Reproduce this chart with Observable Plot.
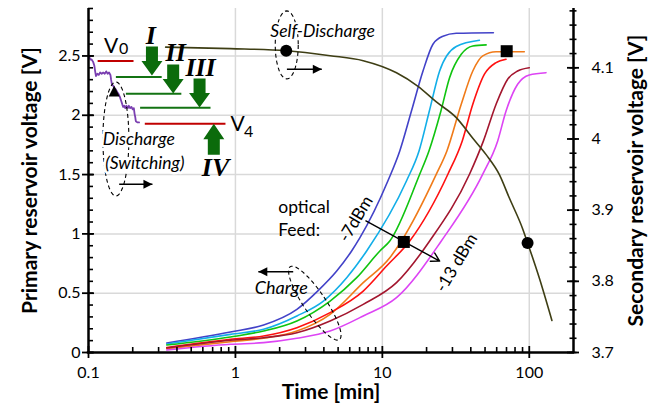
<!DOCTYPE html>
<html><head><meta charset="utf-8">
<script src="https://cdn.jsdelivr.net/npm/d3@7"></script>
<script src="https://cdn.jsdelivr.net/npm/@observablehq/plot@0.6"></script>
<style>body{margin:0;background:#fff;}</style>
</head><body><div id="chart"></div>
<script>
// ---------------- data (time in min, voltage in V) ----------------
const feedPower = ["-7 dBm","-8 dBm","-9 dBm","-10 dBm","-11 dBm","-12 dBm","-13 dBm"];
const chargeM7  = [[0.341,0.080],[0.925,0.173],[1.556,0.232],[2.62,0.364],[3.67,0.524],[4.89,0.687],[6.18,0.856],[7.04,0.968],[10.9,1.446],[13.14,1.699],[15.78,2.036],[18.91,2.373],[22.1,2.599],[25.84,2.666],[31.85,2.691],[57.0,2.696]];
const chargeM8  = [[0.341,0.072],[0.925,0.153],[1.556,0.196],[2.62,0.308],[3.97,0.434],[5.72,0.631],[7.82,0.856],[14.59,1.446],[17.77,1.699],[20.89,2.036],[24.54,2.373],[31.85,2.580],[45.81,2.632]];
const chargeM9  = [[0.341,0.063],[0.925,0.131],[1.556,0.181],[2.62,0.266],[4.41,0.434],[6.69,0.631],[9.62,0.856],[11.24,0.940],[17.96,1.503],[20.76,1.699],[25.04,2.036],[28.68,2.317],[34.43,2.514],[41.27,2.584],[50.86,2.593]];
const chargeM10 = [[0.341,0.032],[0.925,0.091],[1.556,0.120],[2.62,0.181],[4.41,0.322],[7.41,0.589],[11.24,0.799],[13.49,0.940],[23.31,1.503],[27.5,1.699],[34.43,2.093],[41.27,2.373],[48.24,2.500],[59.46,2.536],[92.5,2.536]];
const chargeM11 = [[0.341,0.042],[0.925,0.111],[1.556,0.139],[2.62,0.209],[4.41,0.336],[7.41,0.518],[10.68,0.729],[15.36,0.940],[27.93,1.503],[34.98,1.784],[41.27,2.093],[49.53,2.346],[59.46,2.444],[69.5,2.472]];
const chargeM12 = [[0.341,0.038],[0.925,0.103],[1.556,0.125],[2.62,0.167],[4.41,0.266],[7.41,0.406],[12.48,0.589],[20.99,0.940],[39.19,1.503],[48.76,1.784],[59.46,2.093],[71.26,2.304],[83.32,2.373],[100,2.401]];
const chargeM13 = [[0.341,0.021],[0.925,0.069],[1.556,0.083],[2.62,0.120],[4.41,0.181],[7.41,0.308],[12.48,0.462],[25.2,0.940],[48.24,1.503],[60.97,1.784],[69.5,2.036],[83.32,2.261],[100,2.340],[129.8,2.359]];
// secondary reservoir (right axis, V)
const selfDischarge = [[0.335,4.129],[0.925,4.127],[2.217,4.124],[4.41,4.117],[7.41,4.110],[12.48,4.093],[17.49,4.074],[23.31,4.052],[31.85,4.030],[41.27,4.001],[50.86,3.978],[62.6,3.950],[73.2,3.917],[90.1,3.874],[97.4,3.854],[116.9,3.805],[142.6,3.745]];
const selfDischargeDots = [[2.217,4.124],[97.4,3.854]];
// primary reservoir discharge (switching)
const discharge = [[0.1013,2.49],[0.1030,2.47],[0.1050,2.47],[0.1075,2.45],[0.1095,2.42],[0.1110,2.37],[0.1124,2.33],[0.1150,2.35],[0.1175,2.34],[0.1200,2.36],[0.1230,2.35],[0.1260,2.36],[0.1290,2.35],[0.1320,2.37],[0.1350,2.35],[0.1380,2.36],[0.1410,2.34],[0.1425,2.30],[0.1443,2.26],[0.1470,2.25],[0.1496,2.23],[0.1530,2.22],[0.1560,2.20],[0.1600,2.18],[0.1640,2.15],[0.1670,2.12],[0.1700,2.09],[0.1722,2.07],[0.1750,2.08],[0.1780,2.06],[0.1810,2.08],[0.1850,2.06],[0.1880,2.08],[0.1920,2.06],[0.1960,2.07],[0.2000,2.05],[0.2035,2.06],[0.2060,2.01],[0.2077,1.99],[0.2099,1.95],[0.2150,1.94],[0.2210,1.94]];
const dischargeTriangle = [[0.1496,2.196]];
const feedSquares = [[14.0,0.932],[70.2,2.54]];
// voltage levels [tStart, tEnd, V]
const levelsRed   = [[0.1154,0.2025,2.458],[0.2416,0.8555,1.929]];
const levelsGreen = [[0.1536,0.3149,2.323],[0.1796,0.4284,2.182],[0.2245,0.6768,2.064]];
const stepNames = ["I","II","III","IV"];
const stepLabelT = [0.2653,0.392,0.579,0.7318];
const stepLabelV = [2.669,2.528,2.401,1.558];
const stepArrowT = [0.2703,0.377,0.570,0.7127];
const stepArrowV = [2.458,2.306,2.188,1.798];
// axes
const xMajor = [0.1,1,10,100];
const leftMajor = [0,0.5,1,1.5,2,2.5];
const rightMajor = [3.7,3.8,3.9,4.0,4.1];
const gridT = [1,10,100];
const gridV = [0.5,1,1.5,2,2.5];

// ---------------- layout / styles ----------------
const W=660, H=406, mL=88, mR=87, mT=8, mB=54;
const innerW = W-mL-mR, innerH = H-mT-mB;
const toPrimary = v => (v - 3.7) * 6;
const feedColors = ["#4242c8","#12aee8","#10c410","#f07a18","#ff1010","#a3162e","#dd44f4"];
const chargeSets = [chargeM7,chargeM8,chargeM9,chargeM10,chargeM11,chargeM12,chargeM13];
const chargeRows = chargeSets.flatMap((s,i)=>s.map(([t,v])=>({power:feedPower[i],t,v})));

const leftMinor = d3.range(0,2.91,0.1).map(d=>+d.toFixed(2));
const rightMinor = d3.range(3.70,4.181,0.02).map(d=>+d.toFixed(2));
const xMinor = [0.1,1,10,100].flatMap(p=>d3.range(2,10).map(k=>+(k*p).toPrecision(3))).filter(d=>d<200);

function ellipseSym(rx, ry, deg){
  const a=deg*Math.PI/180, c=Math.cos(a), s=Math.sin(a), n=60;
  return {draw(ctx){for(let i=0;i<=n;i++){const th=2*Math.PI*i/n,x=rx*Math.cos(th),y=ry*Math.sin(th);const X=x*c-y*s,Y=x*s+y*c;i?ctx.lineTo(X,Y):ctx.moveTo(X,Y);}ctx.closePath();}};
}
function polySym(pts){return {draw(ctx){pts.forEach(([x,y],i)=>i?ctx.lineTo(x,y):ctx.moveTo(x,y));ctx.closePath();}};}
const blockDown = polySym([[-6,-14.5],[6,-14.5],[6,0],[10.5,0],[0,14.5],[-10.5,0],[-6,0]]);
const blockUp = polySym([[-6,15.5],[6,15.5],[6,0],[10.5,0],[0,-15.5],[-10.5,0],[-6,0]]);
const triUp = polySym([[0,-6.5],[5.5,4.5],[-5.5,4.5]]);
const squareSym = polySym([[-6,-6],[6,-6],[6,6],[-6,6]]);
const headRight = polySym([[0,0],[-9,-4.5],[-9,4.5]]);
const headLeft = polySym([[0,0],[9,-4.5],[9,4.5]]);

const F = "Lato, 'Open Sans', sans-serif";
const axisBlack = {stroke:"black", strokeWidth:2.5};

const annArrows = [ // [t1, t2, V]
  [2.241,3.871,2.388],   // self-discharge
  [0.1617,0.2724,1.418], // discharge
  [2.473,1.432,0.681]    // charge
];

const marks = [
  Plot.ruleY(gridV,{stroke:"#d9d9d9",strokeWidth:1.5}),
  Plot.ruleX(gridT,{stroke:"#d9d9d9",strokeWidth:1.5}),
  Plot.line(chargeRows,{x:"t",y:"v",z:"power",stroke:"power",strokeWidth:1.6,curve:"monotone-x"}),
  Plot.line(selfDischarge,{x:d=>d[0],y:d=>toPrimary(d[1]),stroke:"#3e3e14",strokeWidth:1.6,curve:"monotone-x"}),
  Plot.line(discharge,{x:d=>d[0],y:d=>d[1],stroke:"#7a3fb0",strokeWidth:1.8}),
  Plot.link(levelsRed,{x1:d=>d[0],x2:d=>d[1],y1:d=>d[2],y2:d=>d[2],stroke:"#c00000",strokeWidth:2}),
  Plot.link(levelsGreen,{x1:d=>d[0],x2:d=>d[1],y1:d=>d[2],y2:d=>d[2],stroke:"#137313",strokeWidth:2}),
  Plot.dot(stepArrowT.slice(0,3).map((t,i)=>[t,stepArrowV[i]]),{x:d=>d[0],y:d=>d[1],symbol:blockDown,fill:"#0b6b0b",stroke:"none"}),
  Plot.dot([[stepArrowT[3],stepArrowV[3]]],{x:d=>d[0],y:d=>d[1],symbol:blockUp,fill:"#0b6b0b",stroke:"none"}),
  Plot.text(stepNames,{x:(d,i)=>stepLabelT[i],y:(d,i)=>stepLabelV[i],text:d=>d,fontFamily:"'Liberation Serif', serif",fontStyle:"italic",fontWeight:"bold",fontSize:26,fill:"black"}),
  // ellipses
  Plot.dot([[0.1536,1.800]],{x:d=>d[0],y:d=>d[1],symbol:ellipseSym(13,57,0),fill:"none",stroke:"black",strokeWidth:1.1,strokeDasharray:"4,3"}),
  Plot.dot([[2.235,2.593]],{x:d=>d[0],y:d=>d[1],symbol:ellipseSym(11.5,34,0),fill:"none",stroke:"black",strokeWidth:1.1,strokeDasharray:"4,3"}),
  Plot.dot([[3.47,0.416]],{x:d=>d[0],y:d=>d[1],symbol:ellipseSym(11,44,-34),fill:"none",stroke:"black",strokeWidth:1.1,strokeDasharray:"4,3"}),
  // annotation arrows
  Plot.link(annArrows,{x1:d=>d[0],x2:d=>d[1],y1:d=>d[2],y2:d=>d[2],stroke:"black",strokeWidth:1.4}),
  Plot.dot(annArrows.slice(0,2),{x:d=>d[1],y:d=>d[2],symbol:headRight,fill:"black",stroke:"none"}),
  Plot.dot(annArrows.slice(2),{x:d=>d[1],y:d=>d[2],symbol:headLeft,fill:"black",stroke:"none"}),
  Plot.arrow([[7.73,1.109,24.54,0.771]],{x1:d=>d[0],y1:d=>d[1],x2:d=>d[2],y2:d=>d[3],stroke:"black",strokeWidth:1.4,headLength:10}),
  // texts
  Plot.text(["Discharge","(Switching)"],{x:(d,i)=>[0.2200,0.2416][i],y:(d,i)=>[1.796,1.598][i],text:d=>d,fontFamily:F,fontStyle:"italic",fontSize:17.5,fill:"black",stroke:"white",strokeWidth:5,paintOrder:"stroke"}),
  Plot.text(["Self-Discharge"],{x:()=>3.92,y:()=>2.711,text:d=>d,fontFamily:F,fontStyle:"italic",fontSize:17.5,fill:"black",stroke:"white",strokeWidth:4,paintOrder:"stroke"}),
  Plot.text(["Charge"],{x:()=>2.051,y:()=>0.544,text:d=>d,fontFamily:F,fontStyle:"italic",fontSize:18,fill:"black"}),
  Plot.text(["optical","Feed:"],{x:()=>1.956,y:(d,i)=>[1.227,1.033][i],text:d=>d,textAnchor:"start",fontFamily:F,fontSize:17.5,fill:"black"}),
  Plot.text(["-7dBm"],{x:()=>6.61,y:()=>1.126,text:d=>d,rotate:-59,fontFamily:F,fontSize:17,fill:"black"}),
  Plot.text(["-13 dBm"],{x:()=>32.0,y:()=>0.755,text:d=>d,rotate:-59,fontFamily:F,fontSize:17,fill:"black"}),
  Plot.text(["V"],{x:()=>0.1274,y:()=>2.584,text:d=>d,textAnchor:"start",fontFamily:F,fontSize:21,fill:"black"}),
  Plot.text(["0"],{x:()=>0.161,y:()=>2.559,text:d=>d,textAnchor:"start",fontFamily:F,fontSize:16,fill:"black"}),
  Plot.text(["V"],{x:()=>0.925,y:()=>1.922,text:d=>d,textAnchor:"start",fontFamily:F,fontSize:21,fill:"black"}),
  Plot.text(["4"],{x:()=>1.142,y:()=>1.859,text:d=>d,textAnchor:"start",fontFamily:F,fontSize:16,fill:"black"}),
  // markers
  Plot.dot(selfDischargeDots,{x:d=>d[0],y:d=>toPrimary(d[1]),r:6,fill:"black",stroke:"none"}),
  Plot.dot(feedSquares,{x:d=>d[0],y:d=>d[1],symbol:squareSym,fill:"black",stroke:"none"}),
  Plot.dot(dischargeTriangle,{x:d=>d[0],y:d=>d[1],symbol:triUp,fill:"black",stroke:"none"}),
  // axes: lines and ticks
  Plot.tickY(leftMinor,{insetRight:innerW-5,stroke:"black",strokeWidth:1.6}),
  Plot.tickY(leftMajor,{insetLeft:-6,insetRight:innerW-6,stroke:"black",strokeWidth:1.8}),
  Plot.tickY(rightMinor.map(toPrimary),{insetLeft:innerW-3.5,insetRight:-3.5,stroke:"black",strokeWidth:1.6}),
  Plot.tickY(rightMajor.map(toPrimary),{insetLeft:innerW-6,insetRight:-6,stroke:"black",strokeWidth:1.8}),
  Plot.tickX(xMinor,{insetTop:innerH-5,stroke:"black",strokeWidth:1.6}),
  Plot.tickX(xMajor,{insetTop:innerH-6,insetBottom:-6,stroke:"black",strokeWidth:1.8}),
  Plot.ruleX([0.1],axisBlack),
  Plot.ruleX([200],axisBlack),
  Plot.ruleY([0],{...axisBlack,x1:0.1,x2:200,insetLeft:-1.2,insetRight:-1.2}),
  Plot.axisY(leftMajor,{anchor:"left",tickSize:0,tickPadding:8,label:null,tickFormat:d=>String(d),fontSize:16,fontFamily:F}),
  Plot.axisY(rightMajor.map(toPrimary),{anchor:"right",tickSize:0,tickPadding:18,label:null,tickFormat:d=>String(Math.round((d/6+3.7)*10)/10),fontSize:16,fontFamily:F}),
  Plot.axisX(xMajor,{anchor:"bottom",tickSize:0,tickPadding:14,label:null,tickFormat:d=>String(d),fontSize:16,fontFamily:F}),
  Plot.text(["Primary reservoir voltage [V]"],{frameAnchor:"left",textAnchor:"middle",lineAnchor:"middle",rotate:-90,dx:-58,text:d=>d,fontWeight:"bold",fontSize:21,fontFamily:F,fill:"black"}),
  Plot.text(["Secondary reservoir voltage [V]"],{frameAnchor:"right",textAnchor:"middle",lineAnchor:"middle",rotate:-90,dx:63,text:d=>d,fontWeight:"bold",fontSize:21,fontFamily:F,fill:"black"}),
  Plot.text(["Time [min]"],{frameAnchor:"bottom",textAnchor:"middle",lineAnchor:"middle",dy:40,text:d=>d,fontWeight:"bold",fontSize:21,fontFamily:F,fill:"black"})
];

const chart = Plot.plot({
  width:W, height:H, marginLeft:mL, marginRight:mR, marginTop:mT, marginBottom:mB,
  x:{type:"log", domain:[0.1,200], axis:null},
  y:{domain:[0,2.9], axis:null},
  color:{domain:feedPower, range:feedColors},
  style:{fontFamily:F, fontSize:"16px", background:"white", color:"black", overflow:"visible"},
  marks
});
document.getElementById("chart").appendChild(chart);
</script></body></html>
